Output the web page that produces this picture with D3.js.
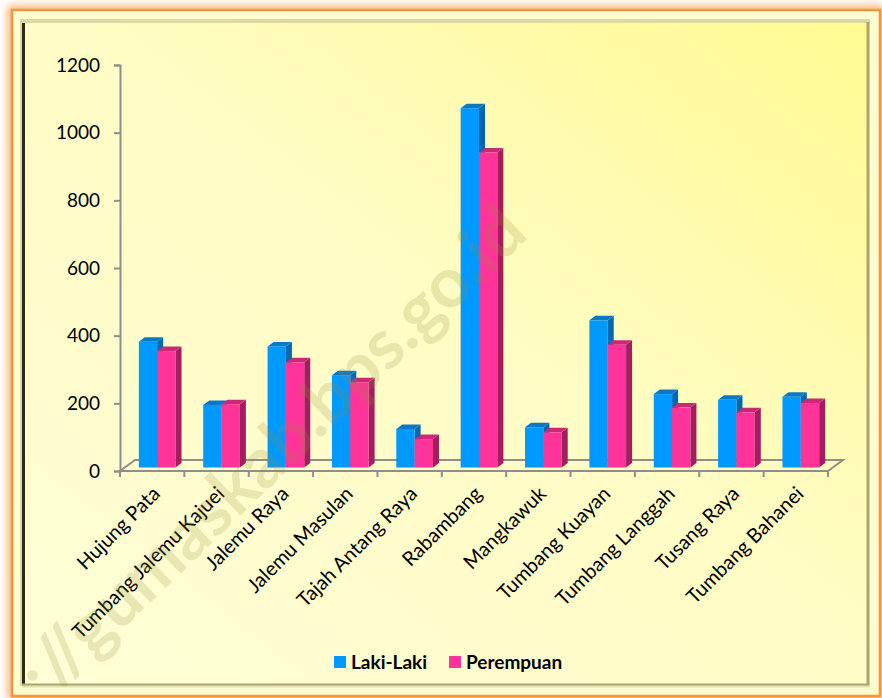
<!DOCTYPE html>
<html>
<head>
<meta charset="utf-8">
<script src="https://cdn.jsdelivr.net/npm/d3@7"></script>
<style>
	html, body { margin: 0; padding: 0; background: #ffffff; }
	svg { display: block; }
</style>
</head>
<body>
<div id="chart"></div>
<script>
const categories = ["Hujung Pata", "Tumbang Jalemu Kajuei", "Jalemu Raya", "Jalemu Masulan", "Tajah Antang Raya",
	"Rabambang", "Mangkawuk", "Tumbang Kuayan", "Tumbang Langgah", "Tusang Raya", "Tumbang Bahanei"];
const seriesNames = ["Laki-Laki", "Perempuan"];
const lakiLaki = [372, 185, 358, 273, 114, 1062, 119, 435, 217, 200, 209];
const perempuan = [344, 187, 311, 252, 84, 931, 104, 363, 177, 163, 191];
const yTicks = [0, 200, 400, 600, 800, 1000, 1200];

const W = 882, H = 698;
const colors = {
	"Laki-Laki": { front: "#0099ff", top: "#0a78c8", side: "#0068b0" },
	"Perempuan": { front: "#ff3399", top: "#c92a78", side: "#a51d5c" }
};

// depth of the floor and of each bar, and where the bars sit inside that depth
const floorDx = 15, floorDy = -11;
const barDx = 6, barDy = -4.5;
const barShiftX = 5, barShiftY = -3.5;

let svg = d3.select("#chart")
	.append("svg")
	.attr("width", W)
	.attr("height", H);

let defs = svg.append("defs");

let grad = defs.append("linearGradient")
	.attr("id", "bg")
	.attr("x1", "0").attr("y1", "1")
	.attr("x2", "1").attr("y2", "0");
grad.append("stop").attr("offset", "0").attr("stop-color", "#fffdd6");
grad.append("stop").attr("offset", "0.55").attr("stop-color", "#fffcc4");
grad.append("stop").attr("offset", "1").attr("stop-color", "#fffa90");

defs.append("filter")
	.attr("id", "glow")
	.attr("x", "-5%").attr("y", "-5%")
	.attr("width", "110%").attr("height", "110%")
	.append("feGaussianBlur")
	.attr("stdDeviation", 4);

defs.append("clipPath")
	.attr("id", "panel")
	.append("rect")
	.attr("x", 22).attr("y", 21)
	.attr("width", 848).attr("height", 665);

// outer frame with orange glow
svg.append("rect")
	.attr("x", 12).attr("y", 10)
	.attr("width", 868).attr("height", 686)
	.attr("fill", "none")
	.attr("stroke", "#f8a860")
	.attr("stroke-width", 8)
	.attr("filter", "url(#glow)");

svg.append("rect")
	.attr("x", 12).attr("y", 10)
	.attr("width", 868).attr("height", 686)
	.attr("fill", "#fffdd0")
	.attr("stroke", "#f7933a")
	.attr("stroke-width", 2.5);

// bevelled inner panel
svg.append("rect")
	.attr("x", 22).attr("y", 21)
	.attr("width", 848).attr("height", 665)
	.attr("fill", "url(#bg)");

svg.append("path")
	.attr("d", "M22,686 L22,21 L870,21")
	.attr("fill", "none")
	.attr("stroke", "#dcd9a6")
	.attr("stroke-width", 4);
svg.append("path")
	.attr("d", "M23.5,686 L23.5,23")
	.attr("fill", "none")
	.attr("stroke", "#2b2b20")
	.attr("stroke-width", 3);
svg.append("path")
	.attr("d", "M868,22 L868,685 L22,685")
	.attr("fill", "none")
	.attr("stroke", "#aaa571")
	.attr("stroke-width", 3);
svg.append("path")
	.attr("d", "M22,686.5 L870,686.5")
	.attr("fill", "none")
	.attr("stroke", "#e4e1b4")
	.attr("stroke-width", 2);

// scales
let y = d3.scaleLinear()
	.domain([0, 1200])
	.range([471, 65]);

let x0 = d3.scaleBand()
	.domain(categories)
	.range([120, 828])
	.paddingInner(0.43)
	.paddingOuter(0.215);

let x1 = d3.scaleBand()
	.domain(seriesNames)
	.range([0, x0.bandwidth()]);

// floor
let xs = x0.range();
svg.append("path")
	.attr("d", `M${xs[0]},${y(0)} L${xs[1]},${y(0)} L${xs[1] + floorDx},${y(0) + floorDy} L${xs[0] + floorDx},${y(0) + floorDy} Z`)
	.attr("fill", "none")
	.attr("stroke", "#8e8e8e")
	.attr("stroke-width", 2);

// y axis
let yAxis = svg.append("g")
	.attr("transform", `translate(${xs[0]},0)`)
	.call(d3.axisLeft(y).tickValues(yTicks).tickSize(6).tickPadding(14).tickFormat(d3.format("d")));
yAxis.select(".domain")
	.attr("stroke", "#8e8e8e")
	.attr("stroke-width", 2);
yAxis.selectAll(".tick line")
	.attr("stroke", "#8e8e8e")
	.attr("stroke-width", 2);
yAxis.selectAll(".tick text")
	.attr("font-family", "Lato, 'Open Sans', sans-serif")
	.attr("font-size", 19)
	.attr("fill", "#000");

// x ticks at band boundaries
svg.append("g")
	.selectAll("line")
	.data(d3.range(categories.length + 1))
	.join("line")
	.attr("x1", i => xs[0] + i * x0.step())
	.attr("x2", i => xs[0] + i * x0.step())
	.attr("y1", y(0))
	.attr("y2", y(0) + 6)
	.attr("stroke", "#8e8e8e")
	.attr("stroke-width", 2);

// x labels
svg.append("g")
	.selectAll("text")
	.data(categories)
	.join("text")
	.attr("transform", d => `translate(${x0(d) + x0.bandwidth() / 2 + 9},${y(0) + 24}) rotate(-45)`)
	.attr("text-anchor", "end")
	.attr("font-family", "Lato, 'Open Sans', sans-serif")
	.attr("font-size", 20)
	.attr("fill", "#000")
	.text(d => d);

// 3d bars
let rows = [];
categories.forEach((c, i) => {
	rows.push({ cat: c, series: "Laki-Laki", value: lakiLaki[i] });
	rows.push({ cat: c, series: "Perempuan", value: perempuan[i] });
});

let bars = svg.append("g")
	.selectAll("g")
	.data(rows)
	.join("g");

bars.each(function (d) {
	let g = d3.select(this),
		xl = x0(d.cat) + x1(d.series) + barShiftX,
		xr = xl + x1.bandwidth(),
		yt = y(d.value) + barShiftY,
		yb = y(0) + barShiftY,
		c = colors[d.series];

	g.append("path")
		.attr("d", `M${xr},${yt} L${xr + barDx},${yt + barDy} L${xr + barDx},${yb + barDy} L${xr},${yb} Z`)
		.attr("fill", c.side);
	g.append("path")
		.attr("d", `M${xl},${yt} L${xl + barDx},${yt + barDy} L${xr + barDx},${yt + barDy} L${xr},${yt} Z`)
		.attr("fill", c.top);
	g.append("rect")
		.attr("x", xl)
		.attr("y", yt)
		.attr("width", x1.bandwidth())
		.attr("height", yb - yt)
		.attr("fill", c.front);
});

// legend
let legend = svg.append("g")
	.selectAll("g")
	.data(seriesNames)
	.join("g")
	.attr("transform", (d, i) => `translate(${[334, 449][i]},656)`);
legend.append("rect")
	.attr("width", 12)
	.attr("height", 12)
	.attr("fill", d => colors[d].front);
legend.append("text")
	.attr("x", 17)
	.attr("y", 12.5)
	.attr("font-family", "Lato, 'Open Sans', sans-serif")
	.attr("font-weight", "bold")
	.attr("font-size", 19)
	.attr("fill", "#000")
	.text(d => d);

// watermark, laid over the chart and clipped to the panel
svg.append("g")
	.attr("clip-path", "url(#panel)")
	.append("text")
	.attr("transform", "translate(530,236) rotate(-44)")
	.attr("text-anchor", "end")
	.attr("font-family", "Lato, 'Open Sans', sans-serif")
	.attr("font-weight", "bold")
	.attr("font-size", 70)
	.attr("fill", "#8f8f3c")
	.attr("fill-opacity", 0.2)
	.text("http://gumaskab.bps.go.id");
</script>
</body>
</html>
